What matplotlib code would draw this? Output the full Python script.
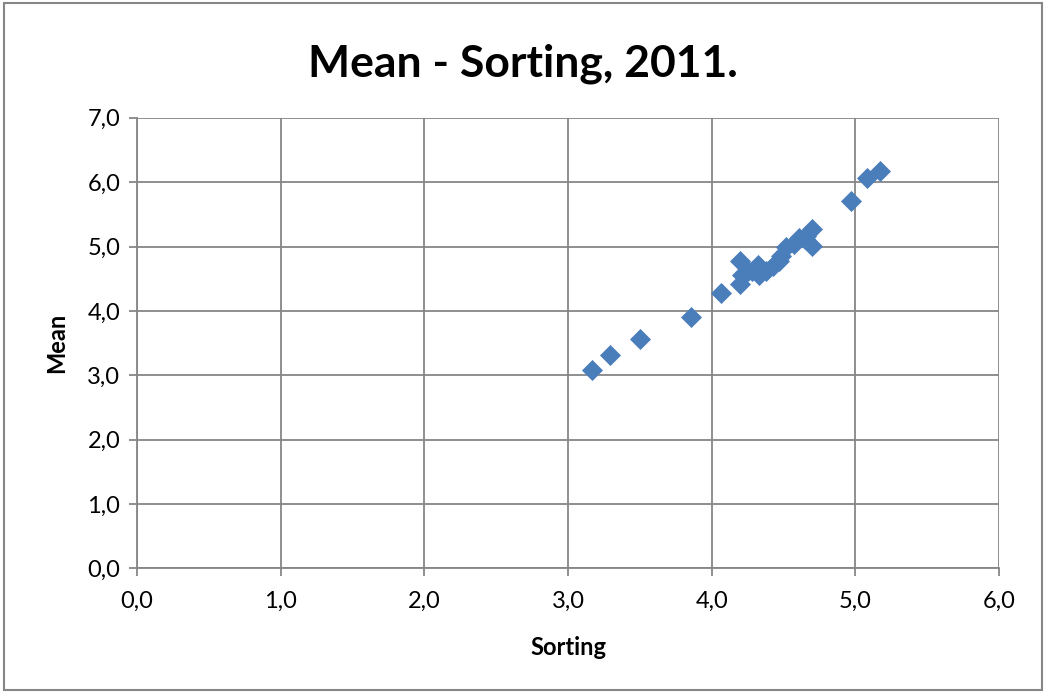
import matplotlib
matplotlib.use("Agg")
import matplotlib.pyplot as plt
from matplotlib.ticker import FuncFormatter

# sorting vs mean values, 2011
sorting = [3.165, 3.29, 3.50, 3.856, 4.065, 4.20, 4.20, 4.21, 4.25, 4.28,
           4.32, 4.33, 4.38, 4.43, 4.47, 4.48, 4.52, 4.57, 4.61, 4.65,
           4.66, 4.70, 4.70, 4.97, 5.08, 5.17]
mean = [3.08, 3.31, 3.57, 3.90, 4.27, 4.42, 4.78, 4.56, 4.62, 4.62,
        4.72, 4.56, 4.62, 4.69, 4.78, 4.85, 5.00, 5.04, 5.13, 5.12,
        5.16, 5.27, 5.01, 5.70, 6.06, 6.17]

plt.rcParams['font.family'] = ['Lato', 'DejaVu Sans']
grey = '#868686'

fig = plt.figure(figsize=(10.46, 6.93), dpi=100)
fig.patches.append(plt.Rectangle((0.004, 0.004), 0.992, 0.992, transform=fig.transFigure,
                                 fill=False, edgecolor=grey, linewidth=1.5))
ax = fig.add_axes([0.131, 0.180, 0.824, 0.650])

ax.scatter(sorting, mean, marker='D', s=115, color='#4a7ebb', zorder=3, linewidths=0)

ax.set_xlim(0, 6)
ax.set_ylim(0, 7)
ax.set_xticks(range(0, 7))
ax.set_yticks(range(0, 8))
fmt = FuncFormatter(lambda v, p: f"{v:.1f}".replace('.', ','))
ax.xaxis.set_major_formatter(fmt)
ax.yaxis.set_major_formatter(fmt)
ax.grid(True, color=grey, linewidth=1.3)
ax.set_axisbelow(True)
for side in ['top', 'right']:
    ax.spines[side].set_visible(False)
for side in ['left', 'bottom']:
    ax.spines[side].set_color(grey)
    ax.spines[side].set_linewidth(1.3)
ax.tick_params(colors=grey, labelcolor='black', labelsize=17, length=6, width=1.3)
ax.tick_params(axis='x', pad=10)
ax.tick_params(axis='y', pad=6)

ax.set_xlabel('Sorting', fontsize=17, fontweight='bold', labelpad=18)
ax.set_ylabel('Mean', fontsize=17, fontweight='bold', labelpad=14)
fig.suptitle('Mean - Sorting, 2011.', fontsize=32, fontweight='bold', y=0.937)

fig.savefig('out.png', dpi=100)
